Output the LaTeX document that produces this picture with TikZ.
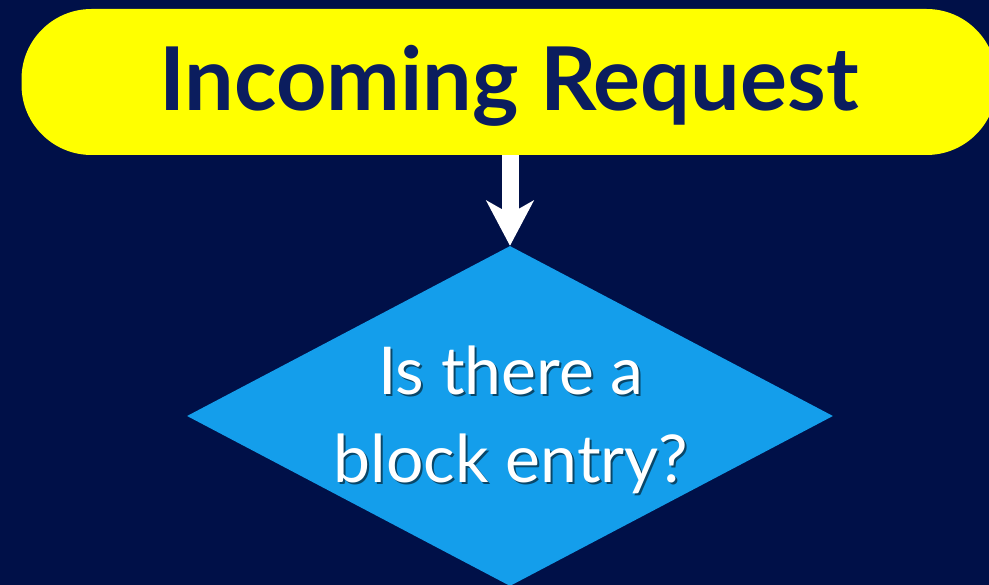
\documentclass[tikz,border=0pt]{standalone}
\usepackage{fontspec}
\setmainfont{Lato}
\usetikzlibrary{arrows.meta,positioning,shapes.geometric}
\definecolor{night}{HTML}{001048}
\definecolor{ink}{HTML}{0B1D5E}
\definecolor{sunny}{HTML}{FFFF00}
\definecolor{sky}{HTML}{149EEB}

\begin{document}
\begin{tikzpicture}[x=1pt,y=-1pt,>=Stealth,
  start/.style={rectangle,rounded corners=70pt,fill=sunny,text=ink,
    minimum width=975pt,minimum height=146pt,inner sep=0pt,
    text height=57pt,text depth=0pt,
    font=\fontsize{88}{100}\selectfont\bfseries},
  decision/.style={diamond,fill=sky,minimum width=646pt,minimum height=340pt,inner sep=0pt},
  question/.style={align=center,text=white,inner sep=0pt,
    font=\fontsize{66}{88}\selectfont}]
\fill[night] (0,0) rectangle (989,585);
\useasboundingbox (0,0) rectangle (989,585);
\node[start] (request) at (509,82) {Incoming Request};
\node[decision] (entry) at (510,416) {};
\node[question,text=black,opacity=.55] at ([shift={(3,6)}]entry.center) {Is there a\\block entry?};
\node[question] (ask) at ([shift={(1,3.5)}]entry.center) {Is there a\\block entry?};
\draw[-{Stealth[length=45pt,width=47pt,inset=13pt]},white,line width=17pt]
  (request.south -| entry.north) -- (entry.north);
\end{tikzpicture}
\end{document}
